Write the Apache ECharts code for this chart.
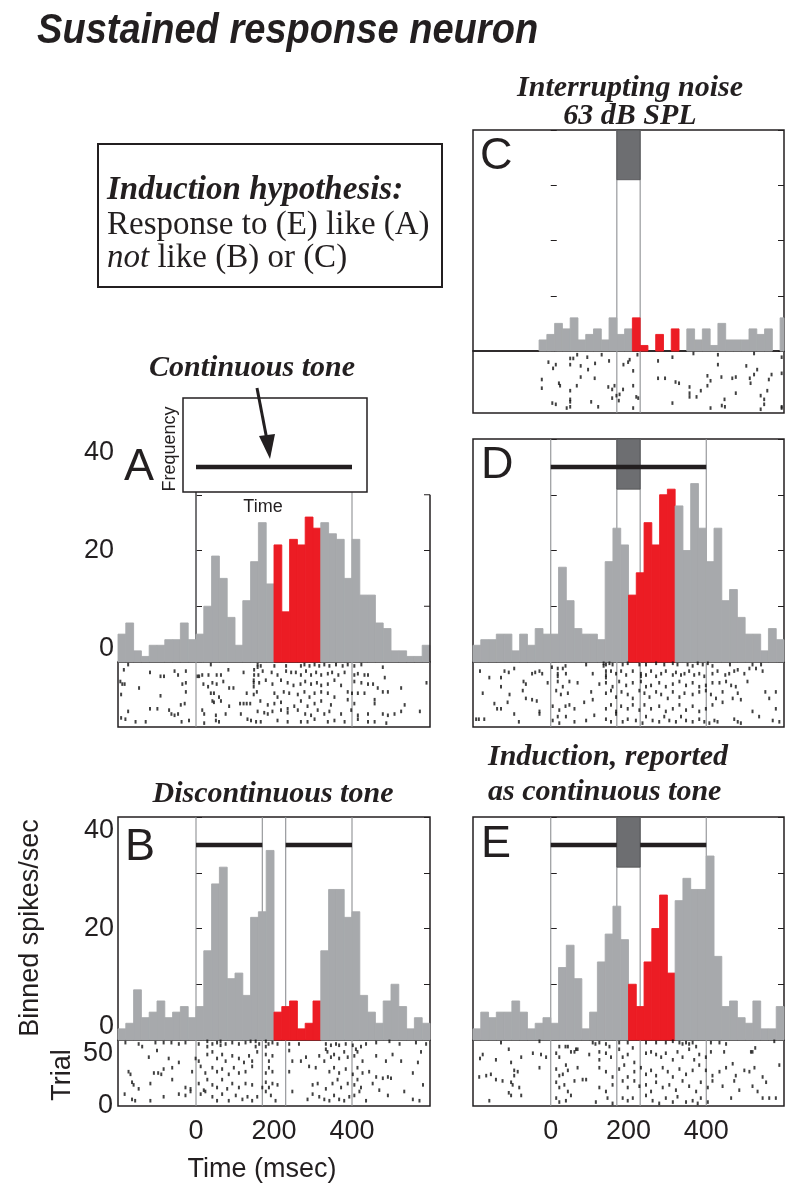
<!DOCTYPE html>
<html><head><meta charset="utf-8">
<script src="https://cdn.jsdelivr.net/npm/echarts@6/dist/echarts.min.js"></script>
<style>html,body{margin:0;padding:0;background:#fff}#c{width:800px;height:1197px}</style>
</head><body><div id="c"></div>
<script>
// ---------------- DATA ----------------
const BIN_MS = 20;                 // histogram bin width (ms)
const T_MIN = -200, T_MAX = 600;   // time window (ms)
const TIME_TICKS = ['0', '200', '400'];
const RATE_TICKS = ['0', '20', '40'];
const TRIAL_TICKS = ['0', '50'];
const TONE_ON = 0, TONE_OFF = 400;           // tone (ms)
const NOISE_ON = 170, NOISE_OFF = 230;       // interrupting noise (ms)
const TONE_LEVEL = 35;                       // schematic bar height
const NOISE_LOW = 31;                        // schematic noise block bottom

// binned spikes/sec, 40 bins of 20 ms
const histA = [5,7,2,1,3,3,4,4,7,4, 5,10,19,15,8,3,11,18,25,14, 21,9,22,21,26,24, 25,23,22,15,22,12,12,7,6,2,2,1,1,3];
const histB = [2,3,9,4,5,7,4,5,6,4, 6,16,28,31,11,12,8,22,23,34, 5,6,7,2,3,7, 16,27,27,22,23,8,5,3,7,10,6,2,4,3];
const histC = [0,0,0,0,0,0,0,0,2,3, 5,4,6,2,3,4,2,6,3,4, 6,1,0,3,0,4, 0,4,2,4,1,5,2,2,2,4,3,4,0,6];
const histD = [3,4,4,5,5,2,5,3,6,5, 5,17,11,6,5,5,4,18,24,21, 12,16,25,21,30,31, 28,20,32,24,18,24,11,13,8,5,5,2,6,4];
const histE = [2,5,4,5,5,7,5,2,3,4, 3,13,17,11,2,5,14,19,24,18, 10,6,14,20,26,12, 25,29,27,27,33,15,6,7,4,3,7,2,2,6];
const binStartA = -200, binStartB = -200, binStartC = -190, binStartD = -200, binStartE = -200;
const redA = [200, 320], redB = [200, 320], redC = [210, 330], redD = [200, 320], redE = [200, 320];

// raster: [spike time (ms), trial]
const rasterA = [[-174,48],[38,48],[158,48],[158,46],[166,47],[201,47],[231,47],[269,47],[278,48],[291,47],[304,48],[316,47],[329,48],[342,47],[359,48],[376,47],[389,48],[406,47],[424,48],[479,46],
[-185,44],[-118,42],[-91,39],[-82,39],[-55,43],[-46,40],[-26,43],[4,39],[8,39],[16,40],[32,40],[53,40],[64,40],[83,44],[122,42],[149,44],[149,40],[160,40],[171,43],[194,42],[209,40],[231,43],[244,42],[256,42],[269,40],[282,43],[295,40],[308,42],[321,40],[338,41],[349,42],[365,40],[381,42],[406,40],[415,41],[432,40],[441,40],[484,38],
[-194,35],[-189,33],[-183,33],[-146,30],[-35,33],[-26,34],[19,33],[31,31],[42,34],[53,33],[70,35],[85,30],[96,30],[148,36],[148,34],[148,31],[162,34],[179,36],[196,33],[218,36],[235,34],[250,32],[268,33],[280,35],[295,33],[310,34],[321,32],[338,33],[355,36],[372,32],[406,35],[424,34],[441,33],[454,33],[466,30],[479,27],[492,27],[526,30],[591,34],
[-192,25],[-91,24],[-26,27],[38,26],[46,26],[59,23],[130,26],[148,25],[156,27],[201,26],[209,23],[225,27],[239,26],[261,25],[278,27],[291,23],[304,26],[321,27],[338,26],[355,23],[389,27],[400,26],[415,26],[432,26],[458,21],[535,17],
[-118,14],[-99,14],[-39,17],[-29,18],[16,13],[42,20],[46,19],[64,20],[85,16],[113,18],[122,18],[130,18],[139,18],[165,20],[184,17],[201,18],[218,19],[235,14],[252,16],[269,20],[286,16],[304,18],[321,20],[346,17],[389,21],[406,18],[458,18],
[-174,12],[-69,13],[-63,10],[-55,9],[-46,10],[21,10],[51,9],[76,10],[115,10],[158,12],[175,11],[184,10],[196,12],[218,13],[235,11],[261,13],[280,10],[295,9],[312,13],[329,10],[342,12],[372,10],[398,13],[415,9],[441,10],[479,10],[492,9],[509,10],[526,12],[574,12],
[-192,7],[-181,6],[-155,4],[-129,4],[-37,4],[-18,5],[21,3],[51,5],[59,4],[132,6],[141,5],[154,4],[166,4],[209,5],[235,4],[269,4],[286,4],[304,6],[338,4],[355,5],[381,4],[415,6],[441,4],[458,4],[488,3]];

const rasterB = [[-181,48],[-147,47],[-138,45],[-104,48],[-83,48],[-63,48],[-44,47],[-27,48],[7,47],[29,49],[29,45],[42,47],[54,48],[63,49],[63,46],[76,47],[93,48],[110,47],[127,48],[140,49],[153,49],[153,45],[162,47],[179,49],[179,45],[186,47],[196,48],[209,47],[239,47],[264,47],[333,47],[333,43],[346,46],[359,47],[367,46],[384,47],[402,46],[410,43],[423,45],[436,47],[462,48],[496,49],[522,47],[564,48],[590,47],
[-121,37],[-100,42],[-70,36],[-44,33],[-1,36],[7,34],[29,39],[42,41],[54,36],[67,39],[76,34],[93,38],[110,36],[123,33],[136,38],[144,34],[157,41],[179,39],[187,34],[196,38],[239,42],[247,34],[269,34],[282,37],[316,38],[329,34],[337,41],[346,37],[354,39],[367,36],[380,41],[389,37],[406,38],[414,41],[427,34],[462,38],[487,34],[504,39],[526,34],[569,33],[577,41],
[-173,26],[-168,24],[-108,25],[-97,25],[-89,24],[-83,28],[-61,29],[-10,26],[12,30],[24,25],[42,29],[54,26],[67,28],[84,24],[97,29],[110,25],[127,26],[144,30],[179,25],[187,29],[196,26],[239,26],[290,30],[307,29],[342,26],[354,29],[367,25],[384,28],[402,24],[414,29],[427,25],[444,26],[462,22],[479,21],[492,22],[500,21],[556,25],
[-164,18],[-160,16],[-147,13],[-117,17],[-61,20],[-27,14],[-14,13],[7,17],[20,12],[29,20],[42,16],[54,14],[67,20],[80,13],[93,17],[110,14],[127,17],[144,16],[170,14],[179,18],[187,14],[196,17],[209,16],[299,16],[312,17],[333,13],[350,17],[363,20],[372,14],[389,17],[406,16],[414,20],[423,14],[453,17],[470,12],[582,16],
[-183,9],[-164,5],[-156,4],[-117,4],[-83,7],[-44,9],[-27,8],[-14,11],[12,9],[24,11],[42,7],[54,4],[67,9],[84,4],[102,8],[119,5],[132,7],[144,4],[157,7],[179,11],[192,8],[204,4],[247,11],[286,5],[299,9],[316,7],[329,5],[342,4],[354,8],[367,5],[380,4],[393,7],[406,8],[419,11],[436,4],[492,8],[534,11],[556,5],[573,4]];

const rasterC = [[-6,41],[13,39],[6,36],[50,44],[58,44],[68,47],[50,39],[77,38],[94,45],[96,35],[114,40],[131,47],[150,42],[187,39],[199,41],[203,43],[212,34],[223,47],[276,42],[313,45],[367,48],[430,47],[430,39],[523,48],[594,45],[503,38],[531,35],
[-23,27],[21,24],[77,29],[113,28],[-23,20],[24,22],[67,22],[50,18],[50,11],[50,9],[4,8],[13,7],[41,4],[50,5],[104,9],[122,5],[148,21],[158,19],[164,22],[158,12],[169,14],[177,15],[175,10],[186,19],[212,22],[220,13],[225,12],[212,4],
[276,28],[294,28],[321,25],[330,24],[313,8],[357,21],[357,16],[357,13],[375,13],[386,18],[403,22],[403,30],[411,26],[439,29],[447,11],[440,6],[448,5],[411,4],[467,28],[476,29],[476,16],[512,28],[514,24],[523,31],[561,27],[568,31],[557,18],[540,14],[549,11],[540,3],[549,7],[594,32],[594,5],[594,4]];

const rasterD = [[91,48],[136,49],[136,47],[142,48],[151,49],[159,48],[185,48],[198,49],[228,48],[245,48],[271,49],[292,48],[314,49],[326,48],[352,48],[365,47],[378,49],[391,48],[404,49],[416,47],[461,48],[519,48],[541,48],[3,46],[18,45],[31,45],[38,47],
[-182,43],[-119,43],[-108,42],[-94,45],[-48,41],[-40,42],[-29,43],[-22,41],[18,41],[18,39],[39,41],[108,41],[142,43],[142,40],[142,38],[155,43],[168,41],[181,43],[194,40],[211,43],[232,41],[232,39],[245,40],[258,43],[271,39],[284,41],[296,43],[314,40],[322,42],[335,40],[344,41],[356,43],[369,40],[382,41],[395,39],[416,41],[429,43],[449,40],[459,41],[472,43],[481,44],[498,41],[511,45],[528,45],[545,43],
[-158,38],[-128,38],[-70,35],[-64,33],[-8,34],[18,35],[31,31],[48,35],[69,34],[125,33],[142,34],[159,31],[176,35],[194,32],[211,34],[232,35],[245,31],[258,32],[279,34],[296,31],[314,33],[331,35],[348,32],[365,34],[382,31],[399,32],[416,34],[434,34],[451,35],[464,32],[476,31],[506,35],
[-175,26],[-128,31],[-106,25],[-72,28],[14,28],[26,25],[44,26],[104,27],[142,26],[155,28],[168,23],[182,27],[198,25],[211,22],[228,28],[241,26],[254,23],[271,27],[284,25],[301,22],[314,27],[331,23],[344,26],[365,25],[382,27],[399,28],[412,25],[425,22],[442,27],[481,26],[552,27],[579,27],
[-145,18],[-138,14],[-128,14],[-111,19],[-64,22],[-48,21],[-36,20],[-29,12],[5,16],[22,13],[38,16],[48,17],[61,14],[86,19],[108,21],[142,14],[155,17],[168,12],[181,16],[198,14],[211,17],[228,13],[241,17],[258,14],[279,16],[296,12],[314,14],[331,17],[348,13],[365,16],[382,12],[399,14],[416,17],[442,19],[468,22],[489,21],[519,12],[562,22],[579,14],
[-192,6],[-185,6],[-171,6],[-94,10],[-82,4],[-29,10],[5,5],[18,8],[22,3],[39,8],[61,4],[91,5],[112,9],[142,6],[155,4],[168,10],[185,4],[198,6],[219,5],[236,3],[245,8],[262,5],[279,4],[292,8],[305,5],[322,4],[335,8],[348,5],[365,4],[382,6],[395,4],[408,3],[421,5],[429,4],[472,6],[481,4],[489,3],[536,8],[571,5],[588,4]];

const rasterE = [[-128,48],[-29,49],[22,45],[38,45],[44,45],[61,41],[69,43],[108,48],[115,47],[125,48],[142,47],[151,45],[176,48],[198,48],[211,44],[245,48],[271,48],[296,48],[314,49],[331,48],[339,47],[348,48],[356,47],[365,48],[374,45],[412,48],[434,48],[451,47],[526,44],[519,41],[575,49],
[-175,39],[-182,36],[-141,35],[-108,43],[-102,33],[-76,37],[-46,40],[-25,39],[-12,37],[14,40],[22,37],[39,31],[52,41],[65,43],[99,39],[125,41],[125,35],[142,40],[155,37],[176,43],[185,37],[198,39],[215,33],[245,40],[258,41],[271,39],[284,37],[296,40],[314,35],[326,41],[339,37],[356,43],[369,35],[382,39],[399,37],[412,41],[446,41],[468,32],[515,41],
[-184,22],[-166,23],[-154,24],[-141,20],[-94,27],[-94,23],[-85,26],[-29,29],[14,28],[22,23],[31,24],[44,27],[69,29],[91,20],[125,29],[142,26],[159,22],[176,28],[189,31],[198,22],[215,26],[232,29],[245,24],[258,27],[271,23],[288,29],[301,26],[314,22],[331,28],[348,24],[365,27],[382,31],[399,27],[416,23],[434,26],[451,29],[476,23],[498,27],[511,26],[524,29],[545,22],[588,31],
[-124,19],[-102,18],[-98,16],[-81,14],[14,18],[22,14],[35,16],[44,11],[61,19],[82,20],[125,14],[142,11],[159,16],[185,19],[198,14],[215,19],[228,15],[245,16],[258,11],[271,18],[288,14],[305,16],[322,12],[339,19],[356,15],[374,11],[386,18],[404,14],[416,19],[442,15],[472,19],[485,12],[519,15],[532,11],[554,18],
[-158,4],[-108,10],[-102,8],[-76,8],[14,6],[22,3],[39,4],[52,8],[116,3],[146,6],[159,2],[185,6],[198,4],[211,6],[245,8],[262,4],[279,2],[296,6],[314,3],[326,7],[348,3],[365,4],[378,2],[386,6],[404,3],[464,6],[545,6],[562,6],[579,6]];

// ---------------- STYLE / LAYOUT ----------------
const GREY = '#a7a9ac', RED = '#ec1c24', NOISE_FILL = '#6d6e71', LINE_GREY = '#8e9093', INK = '#231f20';
const SANS = 'Liberation Sans', SERIF = 'Liberation Serif';
const L = {left: 118, width: 312}, R = {left: 473, width: 311};

const panels = [
  {key:'C', side:R, histTop:130, histH:221, rasTop:351, rasH:62, hist:histC, binStart:binStartC, red:redC, raster:rasterC,
   lines:[NOISE_ON, NOISE_OFF], tone:[], noise:true, lineTop:40},
  {key:'A', side:L, histTop:439, histH:223, rasTop:662, rasH:65, hist:histA, binStart:binStartA, red:redA, raster:rasterA,
   lines:[TONE_ON, TONE_OFF], tone:[[TONE_ON, TONE_OFF]], noise:false, lineTop:30.5, open:true, yLabels:true},
  {key:'D', side:R, histTop:439, histH:223, rasTop:662, rasH:65, hist:histD, binStart:binStartD, red:redD, raster:rasterD,
   lines:[TONE_ON, NOISE_ON, NOISE_OFF, TONE_OFF], tone:[[TONE_ON, TONE_OFF]], noise:true, lineTop:40},
  {key:'B', side:L, histTop:817, histH:223, rasTop:1040, rasH:66, hist:histB, binStart:binStartB, red:redB, raster:rasterB,
   lines:[TONE_ON, NOISE_ON, NOISE_OFF, TONE_OFF], tone:[[TONE_ON, NOISE_ON], [NOISE_OFF, TONE_OFF]], noise:false, lineTop:40, yLabels:true, xLabels:true, trialLabels:true},
  {key:'E', side:R, histTop:817, histH:223, rasTop:1040, rasH:66, hist:histE, binStart:binStartE, red:redE, raster:rasterE,
   lines:[TONE_ON, NOISE_ON, NOISE_OFF, TONE_OFF], tone:[[TONE_ON, NOISE_ON], [NOISE_OFF, TONE_OFF]], noise:true, lineTop:40, xLabels:true}
];

const grid = [], xAxis = [], yAxis = [], series = [];
const labelFont = {fontFamily: SANS, fontSize: 27, color: INK};

function vlineRender(params, api) {
  const t = api.value(0), top = api.value(1);
  const a = api.coord([t, 0]), b = api.coord([t, top]);
  return {type:'line', shape:{x1:a[0], y1:a[1], x2:b[0], y2:b[1]}, style:{stroke: LINE_GREY, lineWidth: 1.1}};
}
function histRender(params, api) {
  const x0 = Math.max(api.value(0), T_MIN), x1 = Math.min(api.value(0) + BIN_MS, T_MAX), v = api.value(1);
  const col = api.value(2) ? RED : GREY;
  const a = api.coord([x0, v]), b = api.coord([x1, 0]);
  if (v <= 0) return null;
  return {type:'rect', shape:{x:a[0], y:a[1], width:b[0]-a[0], height:b[1]-a[1]}, style:{fill: col, stroke: col, lineWidth: 0.9}};
}
function noiseRender(params, api) {
  const a = api.coord([api.value(0), api.value(3)]), b = api.coord([api.value(1), api.value(2)]);
  return {type:'rect', shape:{x:a[0], y:a[1], width:b[0]-a[0], height:b[1]-a[1]}, style:{fill: NOISE_FILL, stroke: '#4d4d4f', lineWidth: 0.8}};
}
function toneRender(params, api) {
  const a = api.coord([api.value(0), api.value(2)]), b = api.coord([api.value(1), api.value(2)]);
  return {type:'line', shape:{x1:a[0], y1:a[1], x2:b[0], y2:b[1]}, style:{stroke: INK, lineWidth: 4.5}};
}
function borderRender(params, api) {
  const x = api.value(0), top = api.value(1);
  const a = api.coord([x, 0]), b = api.coord([x, top]);
  const kids = [{type:'line', shape:{x1:a[0], y1:a[1], x2:b[0], y2:b[1]}, style:{stroke: INK, lineWidth: 1.5}}];
  for (let v = 10; v <= top; v += 10) {
    const p = api.coord([x, v]);
    kids.push({type:'line', shape:{x1:p[0], y1:p[1], x2:p[0]-6, y2:p[1]}, style:{stroke: INK, lineWidth: 1}});
  }
  return {type:'group', children: kids};
}

panels.forEach((p) => {
  const gH = grid.length;
  grid.push({left:p.side.left, width:p.side.width, top:p.histTop, height:p.histH,
    show: !p.open, borderColor: INK, borderWidth: 1.5, backgroundColor: 'transparent'});
  const gR = grid.length;
  grid.push({left:p.side.left, width:p.side.width, top:p.rasTop, height:p.rasH,
    show: true, borderColor: INK, borderWidth: 1.5, backgroundColor: 'transparent'});

  const xH = xAxis.length;
  xAxis.push({type:'value', gridIndex:gH, min:T_MIN, max:T_MAX, interval:200,
    axisLine:{show: !!p.open, onZero:false, lineStyle:{color:INK, width:1.5}}, axisTick:{show:false}, axisLabel:{show:false}, splitLine:{show:false}});
  const xR = xAxis.length;
  xAxis.push({type:'value', gridIndex:gR, min:T_MIN, max:T_MAX, interval:200,
    axisLine:{show:false}, axisTick:{show:false}, splitLine:{show:false},
    axisLabel:{show: !!p.xLabels, margin: 12, ...labelFont,
      formatter: v => TIME_TICKS.includes(String(v)) ? String(v) : ''}});

  const yH = yAxis.length;
  yAxis.push({type:'value', gridIndex:gH, min:0, max:40, interval:10, position:'left',
    axisLine:{show: !!p.open, lineStyle:{color:INK, width:1.5}},
    axisTick:{show:true, inside:true, length:6, lineStyle:{color:INK, width:1}},
    splitLine:{show:false},
    axisLabel:{show: !!p.yLabels, margin: 4, ...labelFont, verticalAlignMaxLabel:'top', verticalAlignMinLabel:'bottom',
      formatter: v => RATE_TICKS.includes(String(v)) ? String(v) : ''}});
  if (!p.open) {
    yAxis.push({type:'value', gridIndex:gH, min:0, max:40, interval:10, position:'right',
      axisLine:{show:false}, axisTick:{show:true, inside:true, length:6, lineStyle:{color:INK, width:1}},
      splitLine:{show:false}, axisLabel:{show:false}});
  }
  const yR = yAxis.length;
  yAxis.push({type:'value', gridIndex:gR, min:0, max:50, interval:50,
    axisLine:{show:false}, axisTick:{show:false}, splitLine:{show:false},
    axisLabel:{show: !!p.trialLabels, margin: 5, ...labelFont, verticalAlignMaxLabel:'top',
      formatter: v => TRIAL_TICKS.includes(String(v)) ? String(v) : ''}});

  series.push({type:'custom', xAxisIndex:xH, yAxisIndex:yH, z:1, silent:true, renderItem:vlineRender,
    data: p.lines.map(t => [t, p.lineTop])});
  series.push({type:'custom', xAxisIndex:xR, yAxisIndex:yR, z:1, silent:true, renderItem:vlineRender,
    data: p.lines.map(t => [t, 50])});
  series.push({type:'custom', xAxisIndex:xH, yAxisIndex:yH, z:2, silent:true, renderItem:histRender,
    data: p.hist.map((v, i) => {
      const s = p.binStart + i * BIN_MS;
      return [s, v, (s >= p.red[0] && s < p.red[1]) ? 1 : 0];
    })});
  if (p.noise) {
    series.push({type:'custom', xAxisIndex:xH, yAxisIndex:yH, z:3, silent:true, renderItem:noiseRender,
      data: [[NOISE_ON, NOISE_OFF, NOISE_LOW, 40]]});
  }
  if (p.tone.length) {
    series.push({type:'custom', xAxisIndex:xH, yAxisIndex:yH, z: p.open ? 200 : 4, zlevel: p.open ? 1 : 0, silent:true, renderItem:toneRender,
      data: p.tone.map(s => [s[0], s[1], TONE_LEVEL])});
  }
  if (p.open) {
    series.push({type:'custom', xAxisIndex:xH, yAxisIndex:yH, z:3, silent:true, renderItem:borderRender,
      data: [[T_MAX, 30]]});
  }
  series.push({type:'scatter', xAxisIndex:xR, yAxisIndex:yR, z:3, silent:true, symbol:'rect', symbolSize:[2, 3.6],
    itemStyle:{color:'#111'}, data: p.raster});
});

const boldItalicSerif = {fontFamily: SERIF, fontWeight: 'bold', fontStyle: 'italic', fontSize: 30, fill: INK};
function txt(x, y, text, style, extra) {
  return Object.assign({type:'text', x, y, style: Object.assign({text, align:'center', verticalAlign:'middle'}, style)}, extra || {});
}

const graphic = [
  txt(37, 31, 'Sustained response neuron', {fontFamily: SANS, fontWeight:'bold', fontStyle:'italic', fontSize: 43, fill: INK, align:'left'}, {scaleX: 0.885}),
  {type:'rect', shape:{x:98, y:144, width:344, height:143}, style:{fill:'#fff', stroke:INK, lineWidth:2}},
  txt(107, 190, 'Induction hypothesis:', Object.assign({}, boldItalicSerif, {align:'left', fontSize: 33})),
  txt(107, 225, 'Response to (E) like (A)', {fontFamily: SERIF, fontSize: 33, fill: INK, align:'left'}),
  {type:'text', x:107, y:258, style:{text:'{i|not} like (B) or (C)', align:'left', verticalAlign:'middle', fontFamily: SERIF, fontSize: 33, fill: INK,
    rich:{i:{fontFamily: SERIF, fontStyle:'italic', fontSize: 33, fill: INK}}}},
  txt(630, 88, 'Interrupting noise', boldItalicSerif),
  txt(630, 116, '63 dB SPL', boldItalicSerif),
  txt(252, 368, 'Continuous tone', boldItalicSerif),
  txt(273, 794, 'Discontinuous tone', boldItalicSerif),
  txt(488, 757, 'Induction, reported', Object.assign({}, boldItalicSerif, {align:'left'})),
  txt(488, 792, 'as continuous tone', Object.assign({}, boldItalicSerif, {align:'left'})),
  txt(124, 468, 'A', {fontFamily: SANS, fontSize: 45, fill: INK, align:'left'}),
  txt(125, 848, 'B', {fontFamily: SANS, fontSize: 45, fill: INK, align:'left'}),
  txt(480, 157, 'C', {fontFamily: SANS, fontSize: 45, fill: INK, align:'left'}),
  txt(481, 466, 'D', {fontFamily: SANS, fontSize: 45, fill: INK, align:'left'}),
  txt(481, 845, 'E', {fontFamily: SANS, fontSize: 45, fill: INK, align:'left'}),
  {type:'rect', z: 100, shape:{x:183, y:398, width:184, height:94}, style:{fill:'#fff', stroke:INK, lineWidth:1.5}},
  txt(170, 449, 'Frequency', {fontFamily: SANS, fontSize: 18, fill: INK}, {rotation: Math.PI / 2, z: 100}),
  txt(263, 507, 'Time', {fontFamily: SANS, fontSize: 18, fill: INK}, {z: 100}),
  {type:'line', z: 101, shape:{x1:257, y1:388, x2:267, y2:440}, style:{stroke:INK, lineWidth:3}},
  {type:'polygon', z: 101, shape:{points:[[259,436],[275,434],[270,459]]}, style:{fill:INK}},
  txt(31, 928, 'Binned spikes/sec', {fontFamily: SANS, fontSize: 27, fill: INK}, {rotation: Math.PI / 2}),
  txt(63, 1075, 'Trial', {fontFamily: SANS, fontSize: 27, fill: INK}, {rotation: Math.PI / 2}),
  txt(262, 1170, 'Time (msec)', {fontFamily: SANS, fontSize: 27, fill: INK})
];

const chart = echarts.init(document.getElementById('c'), null, {renderer: 'canvas'});
chart.setOption({animation:false, backgroundColor:'#fff', grid, xAxis, yAxis, series, graphic: {elements: graphic}});
</script>
</body></html>
